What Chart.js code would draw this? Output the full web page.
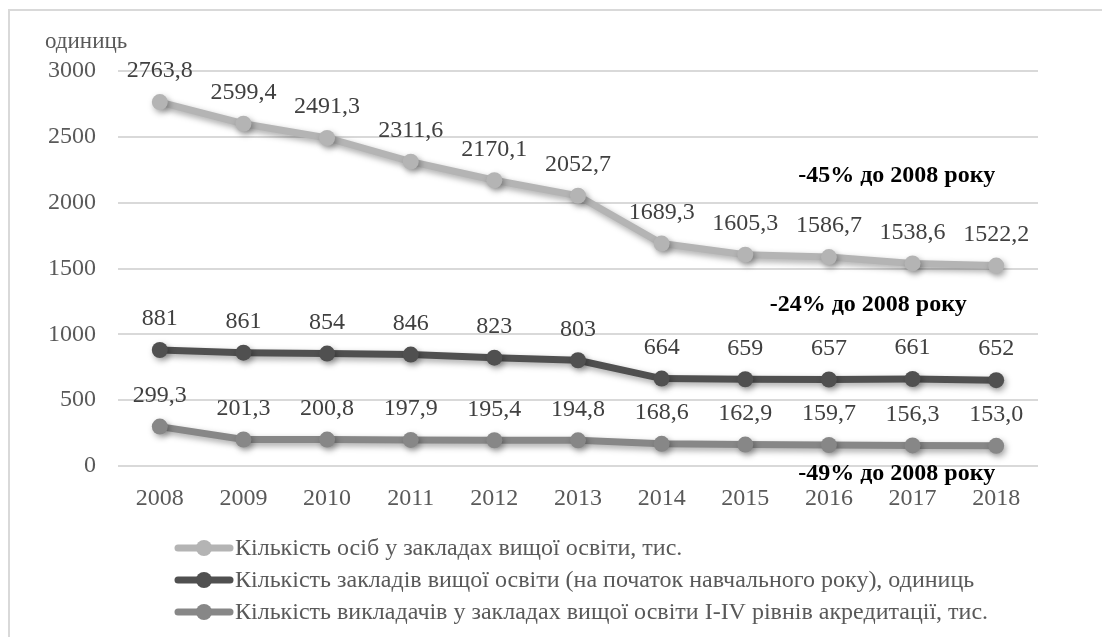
<!DOCTYPE html>
<html>
<head>
<meta charset="utf-8">
<script src="https://cdn.jsdelivr.net/npm/chart.js@4/dist/chart.umd.min.js"></script>
<style>
  html, body { margin: 0; padding: 0; background: #fff; }
  #wrap { position: absolute; left: 0; top: 0; width: 1102px; height: 637px; }
</style>
</head>
<body>
<div id="wrap"><canvas id="chart"></canvas></div>
<script>
const years = ['2008', '2009', '2010', '2011', '2012', '2013', '2014', '2015', '2016', '2017', '2018'];
const students = [2763.8, 2599.4, 2491.3, 2311.6, 2170.1, 2052.7, 1689.3, 1605.3, 1586.7, 1538.6, 1522.2];
const institutions = [881, 861, 854, 846, 823, 803, 664, 659, 657, 661, 652];
const teachers = [299.3, 201.3, 200.8, 197.9, 195.4, 194.8, 168.6, 162.9, 159.7, 156.3, 153.0];
const seriesNames = [
    'Кількість осіб у закладах вищої освіти, тис.',
    'Кількість закладів вищої освіти (на початок навчального року), одиниць',
    'Кількість викладачів у закладах вищої освіти I-IV рівнів акредитації, тис.'
];
const notes = ['-45% до 2008 року', '-24% до 2008 року', '-49% до 2008 року'];

const serif = '"Liberation Serif", "Times New Roman", serif';
const tickColor = '#595959';

function fmt(v, decimals) {
    return decimals ? v.toFixed(1).replace('.', ',') : String(v);
}

const extras = {
    id: 'extras',
    beforeDraw(chart) {
        const ctx = chart.ctx;
        ctx.save();
        ctx.strokeStyle = '#d9d9d9';
        ctx.lineWidth = 2;
        ctx.beginPath();
        ctx.moveTo(9, 640);
        ctx.lineTo(9, 10);
        ctx.lineTo(1105, 10);
        ctx.stroke();
        ctx.fillStyle = tickColor;
        ctx.font = '23px ' + serif;
        ctx.textBaseline = 'middle';
        ctx.textAlign = 'left';
        ctx.fillText('одиниць', 45, 42);
        ctx.restore();
    },
    beforeDatasetDraw(chart) {
        const ctx = chart.ctx;
        ctx.save();
        ctx.shadowColor = 'rgba(0,0,0,0.35)';
        ctx.shadowBlur = 6;
        ctx.shadowOffsetX = 2;
        ctx.shadowOffsetY = 3;
    },
    afterDatasetDraw(chart) {
        chart.ctx.restore();
    },
    afterDraw(chart) {
        const ctx = chart.ctx;
        const xs = chart.scales.x, ys = chart.scales.y;
        ctx.save();
        // підписи значень
        ctx.font = '24px ' + serif;
        ctx.fillStyle = '#404040';
        ctx.textAlign = 'center';
        ctx.textBaseline = 'middle';
        chart.data.datasets.forEach((ds, di) => {
            const meta = chart.getDatasetMeta(di);
            meta.data.forEach((pt, i) => {
                ctx.fillText(fmt(ds.data[i], ds.decimals), pt.x, pt.y - 31);
            });
        });
        // примітки
        ctx.font = 'bold 24px ' + serif;
        ctx.fillStyle = '#000';
        const anchors = [[8.81, 2203], [8.47, 1223], [8.81, -61]];
        notes.forEach((t, i) => {
            ctx.fillText(t, xs.getPixelForValue(anchors[i][0]), ys.getPixelForValue(anchors[i][1]));
        });
        // легенда
        ctx.textAlign = 'left';
        ctx.font = '24px ' + serif;
        chart.data.datasets.forEach((ds, di) => {
            const y = 548 + di * 32;
            ctx.strokeStyle = ds.borderColor;
            ctx.lineWidth = 7;
            ctx.lineCap = 'round';
            ctx.beginPath();
            ctx.moveTo(178, y);
            ctx.lineTo(230, y);
            ctx.stroke();
            ctx.fillStyle = ds.borderColor;
            ctx.beginPath();
            ctx.arc(204, y, 8, 0, Math.PI * 2);
            ctx.fill();
            ctx.fillStyle = tickColor;
            ctx.fillText(ds.label, 235, y + 1);
        });
        ctx.restore();
    }
};

function series(label, data, color, decimals) {
    return {
        label: label,
        data: data,
        decimals: decimals,
        borderColor: color,
        backgroundColor: color,
        borderWidth: 7,
        pointRadius: 8,
        pointHoverRadius: 8,
        pointBorderWidth: 0,
        tension: 0,
        fill: false
    };
}

new Chart(document.getElementById('chart'), {
    type: 'line',
    data: {
        labels: years,
        datasets: [
            series(seriesNames[0], students, '#b4b4b4', true),
            series(seriesNames[1], institutions, '#505050', false),
            series(seriesNames[2], teachers, '#878787', true)
        ]
    },
    options: {
        responsive: true,
        maintainAspectRatio: false,
        animation: false,
        layout: { padding: { left: 0, right: 64, top: 71, bottom: 131 } },
        plugins: {
            legend: { display: false },
            tooltip: { enabled: false }
        },
        scales: {
            x: {
                offset: true,
                grid: { display: false, drawTicks: false },
                border: { display: false },
                ticks: { color: tickColor, font: { family: serif, size: 24 }, padding: 18 },
                afterFit(s) { s.height = 40; }
            },
            y: {
                min: 0,
                max: 3000,
                grid: { color: '#d9d9d9', lineWidth: 2, drawTicks: false },
                border: { display: false },
                ticks: {
                    stepSize: 500,
                    color: tickColor,
                    font: { family: serif, size: 24 },
                    padding: 22,
                    callback: v => String(v)
                },
                afterFit(s) { s.width = 118; }
            }
        }
    },
    plugins: [extras]
});
</script>
</body>
</html>
